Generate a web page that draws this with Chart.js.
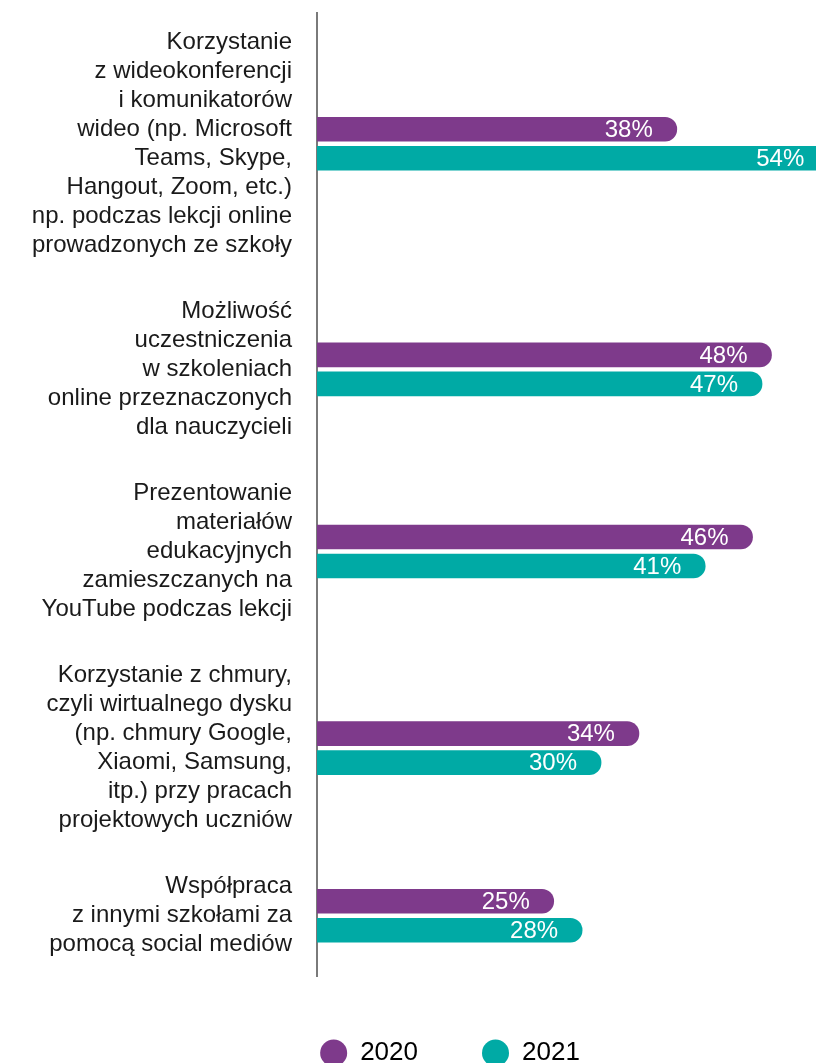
<!DOCTYPE html>
<html>
<head>
<meta charset="utf-8">
<script src="https://cdn.jsdelivr.net/npm/chart.js@4"></script>
<style>
    html, body { margin: 0; padding: 0; background: #ffffff; overflow: hidden; }
</style>
</head>
<body>
<canvas id="plot1" width="816" height="1063"></canvas>
<script>
// kategorie - kazda linia etykiety osobno
var kategorie = [
    ['Korzystanie', 'z wideokonferencji', 'i komunikatorów', 'wideo (np. Microsoft', 'Teams, Skype,', 'Hangout, Zoom, etc.)', 'np. podczas lekcji online', 'prowadzonych ze szkoły'],
    ['Możliwość', 'uczestniczenia', 'w szkoleniach', 'online przeznaczonych', 'dla nauczycieli'],
    ['Prezentowanie', 'materiałów', 'edukacyjnych', 'zamieszczanych na', 'YouTube podczas lekcji'],
    ['Korzystanie z chmury,', 'czyli wirtualnego dysku', '(np. chmury Google,', 'Xiaomi, Samsung,', 'itp.) przy pracach', 'projektowych uczniów'],
    ['Współpraca', 'z innymi szkołami za', 'pomocą social mediów']
];
var lata = ['2020', '2021'];
var dane_2020 = [38, 48, 46, 34, 25];
var dane_2021 = [54, 47, 41, 30, 28];

var kolory = ['#7e3a8b', '#00aaa5'];

// os Y liczona w "liniach" etykiety (1 jednostka = 1 linia tekstu)
var odstep = 1.28;       // przerwa miedzy grupami
var poczatek = 0.51;
var pozycje = [];
var suma_linii = 0;
kategorie.forEach(function (linie, i) {
    pozycje.push(poczatek + suma_linii + linie.length / 2 + i * odstep);
    suma_linii += linie.length;
});

function punkty(dane, przes) {
    return dane.map(function (v, i) { return { x: v, y: pozycje[i] + przes }; });
}

var etykiety_wartosci = {
    id: 'etykiety_wartosci',
    afterLayout: function (chart) {
        // etykiety osi Y moga wychodzic w lewo poza pudelko osi (bez przyciecia)
        chart.scales.y.left = 0;
    },
    afterDatasetsDraw: function (chart) {
        var ctx = chart.ctx;
        var wartosci = [dane_2020, dane_2021];
        ctx.save();
        ctx.font = '24px "Liberation Sans"';
        ctx.fillStyle = '#ffffff';
        ctx.textAlign = 'right';
        ctx.textBaseline = 'middle';
        wartosci.forEach(function (seria, d) {
            chart.getDatasetMeta(d).data.forEach(function (bar, i) {
                var x = Math.min(bar.x - 24, chart.chartArea.right - 6);
                ctx.fillText(seria[i] + '%', x, bar.y + 1);
            });
        });
        ctx.restore();
    }
};

Chart.defaults.font.family = '"Liberation Sans", Arial, sans-serif';

var dados = {
    type: 'bar',
    data: {
        datasets: [
            {
                label: lata[0],
                data: punkty(dane_2020, -0.5),
                backgroundColor: kolory[0],
                borderWidth: 0
            },
            {
                label: lata[1],
                data: punkty(dane_2021, 0.5),
                backgroundColor: kolory[1],
                borderWidth: 0
            }
        ]
    },
    options: {
        responsive: false,
        animation: false,
        indexAxis: 'y',
        datasets: {
            bar: {
                grouped: false,
                barThickness: 24,
                borderRadius: 12,
                borderSkipped: 'start'
            }
        },
        layout: { padding: { top: 13, left: 84, right: 0, bottom: 0 } },
        scales: {
            x: {
                type: 'linear',
                display: false,
                min: 0,
                max: 52.7
            },
            y: {
                type: 'linear',
                reverse: true,
                offset: false,
                min: 0,
                max: 963 / 29,
                grid: { display: false, drawTicks: false, offset: false },
                border: { display: true, color: '#7a7a7a', width: 2 },
                afterBuildTicks: function (scale) {
                    scale.ticks = pozycje.map(function (p) { return { value: p }; });
                },
                afterFit: function (scale) {
                    scale.width = 233;
                    scale.paddingTop = 0;
                    scale.paddingBottom = 0;
                },
                ticks: {
                    autoSkip: false,
                    padding: 25,
                    color: '#1a1a1a',
                    font: { size: 24, lineHeight: 29 / 24 },
                    callback: function (value, index) {
                        return kategorie[index];
                    }
                }
            }
        },
        plugins: {
            tooltip: { enabled: false },
            legend: {
                position: 'bottom',
                maxHeight: 87,
                labels: {
                    usePointStyle: true,
                    pointStyle: 'circle',
                    boxHeight: 19,
                    pointStyleWidth: 27,
                    padding: 64,
                    color: '#000000',
                    font: { size: 26 }
                }
            }
        }
    },
    plugins: [etykiety_wartosci]
};

var grafico = new Chart(document.getElementById('plot1'), dados);
</script>
</body>
</html>
